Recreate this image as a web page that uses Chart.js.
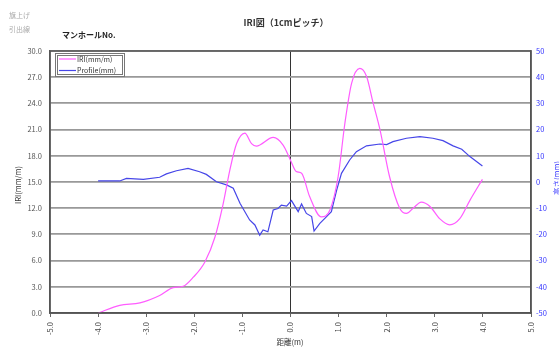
<!DOCTYPE html>
<html>
<head>
<meta charset="utf-8">
<script src="https://cdn.jsdelivr.net/npm/chart.js@4"></script>
<style>
    body { margin: 0; background: #fff; }
    #wrap { width: 559px; height: 347px; }
</style>
</head>
<body>
<div id="wrap"><canvas id="iriChart" width="559" height="347"></canvas></div>
<script>
// distance (m) and IRI (mm/m)
const iriX = [-4.0, -3.55, -3.13, -2.72, -2.44, -2.23, -2.02, -1.78, -1.57, -1.40, -1.26, -1.12, -0.95, -0.81, -0.71, -0.36, -0.15, 0.0, 0.12, 0.23, 0.40, 0.64, 0.82, 0.99, 1.13, 1.27, 1.44, 1.58, 1.72, 1.86, 2.06, 2.27, 2.41, 2.55, 2.72, 2.90, 3.10, 3.31, 3.52, 3.73, 3.99];
const iriVals = [0, 0.88, 1.15, 2.0, 2.9, 3.06, 4.1, 5.85, 8.7, 12.5, 16.4, 19.4, 20.6, 19.4, 19.1, 20.1, 19.2, 17.5, 16.2, 16.0, 13.3, 11.0, 11.8, 15.6, 21.7, 26.3, 28.0, 27.1, 24.0, 21.0, 15.6, 12.0, 11.4, 12.0, 12.7, 12.2, 10.8, 10.1, 10.8, 12.9, 15.3];

// distance (m) and profile height (mm)
const profX = [-4.0, -3.55, -3.41, -3.06, -2.72, -2.58, -2.37, -2.13, -1.89, -1.75, -1.54, -1.33, -1.19, -1.05, -0.85, -0.74, -0.64, -0.57, -0.47, -0.36, -0.26, -0.19, -0.08, 0.02, 0.09, 0.16, 0.23, 0.33, 0.44, 0.49, 0.61, 0.75, 0.85, 0.96, 1.06, 1.23, 1.37, 1.58, 1.86, 2.0, 2.13, 2.41, 2.69, 2.96, 3.17, 3.38, 3.56, 3.73, 3.99];
const profVals = [0.4, 0.4, 1.4, 1.0, 1.8, 3.1, 4.3, 5.2, 3.9, 2.9, 0.1, -1.1, -2.4, -8.1, -14.5, -16.4, -20.3, -18.3, -19, -10.7, -10.1, -8.8, -9.2, -7.1, -9.2, -11.3, -8.4, -12, -13.2, -18.7, -15.8, -13.2, -11.3, -3.1, 3.3, 8.4, 11.6, 13.8, 14.5, 14.3, 15.4, 16.7, 17.3, 16.7, 15.8, 13.8, 12.5, 9.7, 6.1];

const seriesNames = ['IRI(mm/m)', 'Profile(mm)'];
const IRI_COLOR = '#ff5cff';
const PROF_COLOR = '#4646e8';

const jpFont = "'Noto Sans CJK JP', 'Noto Sans', sans-serif";

// texts, legend box and frame drawn over the chart
const decorPlugin = {
    id: 'decor',
    afterDraw(chart) {
        const c = chart.ctx;
        const a = chart.chartArea;
        c.save();
        c.strokeStyle = '#555';
        c.lineWidth = 1.5;
        c.strokeRect(a.left, a.top, a.right - a.left, a.bottom - a.top);

        c.textBaseline = 'middle';
        c.fillStyle = '#aaa';
        c.font = '7px ' + jpFont;
        c.textAlign = 'left';
        c.fillText('旗上げ', 9, 15);
        c.fillText('引出線', 9, 29);

        c.fillStyle = '#222';
        c.font = 'bold 8px ' + jpFont;
        c.fillText('マンホールNo.', 62, 35);

        c.fillStyle = '#333';
        c.font = 'bold 9px ' + jpFont;
        c.textAlign = 'center';
        c.fillText('IRI図（1cmピッチ）', 286, 23);

        c.font = '7.5px ' + jpFont;
        c.fillText('距離(m)', 290, 342);

        c.save();
        c.translate(18, 185);
        c.rotate(-Math.PI / 2);
        c.fillStyle = '#333';
        c.fillText('IRI(mm/m)', 0, 0);
        c.restore();

        c.save();
        c.translate(557, 178);
        c.rotate(-Math.PI / 2);
        c.fillStyle = '#3333ff';
        c.fillText('高さ(mm)', 0, 0);
        c.restore();

        // legend
        c.fillStyle = '#fff';
        c.fillRect(55, 53, 69, 23);
        c.strokeStyle = '#777';
        c.lineWidth = 1;
        c.strokeRect(55.5, 53.5, 69, 23);
        c.strokeRect(57.5, 55.5, 65, 19);
        const rows = [[seriesNames[0], IRI_COLOR, 59], [seriesNames[1], PROF_COLOR, 70.5]];
        c.font = '7px ' + jpFont;
        c.textAlign = 'left';
        rows.forEach(r => {
            c.strokeStyle = r[1];
            c.lineWidth = 1.2;
            c.beginPath();
            c.moveTo(59, r[2]);
            c.lineTo(76, r[2]);
            c.stroke();
            c.fillStyle = '#333';
            c.fillText(r[0], 77, r[2]);
        });
        c.restore();
    }
};

const ctx = document.getElementById('iriChart').getContext('2d');

const iriChart = new Chart(ctx, {
    type: 'line',
    data: {
        datasets: [{
            label: seriesNames[0],
            data: iriX.map((x, i) => ({ x: x, y: iriVals[i] })),
            borderColor: IRI_COLOR,
            borderWidth: 1.2,
            pointRadius: 0,
            fill: false,
            cubicInterpolationMode: 'monotone',
            yAxisID: 'y'
        }, {
            label: seriesNames[1],
            data: profX.map((x, i) => ({ x: x, y: profVals[i] })),
            borderColor: PROF_COLOR,
            borderWidth: 1.2,
            pointRadius: 0,
            fill: false,
            tension: 0,
            yAxisID: 'y2'
        }]
    },
    options: {
        responsive: false,
        animation: false,
        layout: { padding: { top: 51, left: 0, right: 0, bottom: 0 } },
        plugins: {
            legend: { display: false },
            tooltip: { enabled: false }
        },
        scales: {
            x: {
                type: 'linear',
                min: -5,
                max: 5,
                afterFit: s => { s.height = 34; },
                ticks: {
                    stepSize: 1,
                    autoSkip: false,
                    minRotation: 90,
                    maxRotation: 90,
                    padding: 5,
                    color: '#444',
                    font: { size: 7.5, family: jpFont },
                    callback: v => v.toFixed(1)
                },
                grid: {
                    color: c => (c.tick && c.tick.value === 0) ? '#333' : 'rgba(0,0,0,0)',
                    tickColor: '#666',
                    tickLength: 4,
                    lineWidth: 1
                },
                border: { color: '#555', width: 1.5 }
            },
            y: {
                position: 'left',
                min: 0,
                max: 30,
                afterFit: s => { s.width = 50; },
                ticks: {
                    stepSize: 3,
                    padding: 8,
                    color: '#555',
                    font: { size: 7.5, family: jpFont },
                    callback: v => v.toFixed(1)
                },
                grid: { color: '#999', lineWidth: 1.8, drawTicks: false },
                border: { color: '#555', width: 1.5 }
            },
            y2: {
                position: 'right',
                min: -50,
                max: 50,
                afterFit: s => { s.width = 28; },
                ticks: {
                    stepSize: 10,
                    padding: 5,
                    color: '#3333ff',
                    font: { size: 7.5, family: jpFont }
                },
                grid: { drawOnChartArea: false, drawTicks: false },
                border: { color: '#555', width: 1.5 }
            }
        }
    },
    plugins: [decorPlugin]
});
</script>
</body>
</html>
